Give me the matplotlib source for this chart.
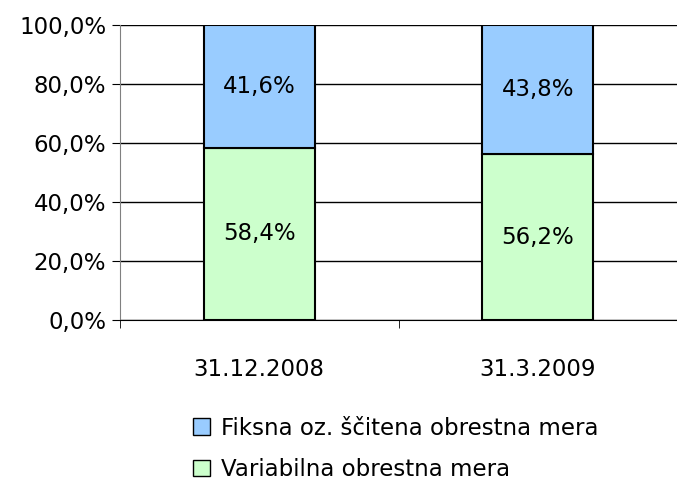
import numpy as np
import matplotlib.pyplot as plt
from matplotlib.patches import Patch

categories = ['31.12.2008', '31.3.2009']
variabilna = np.array([58.4, 56.2])
fiksna = np.array([41.6, 43.8])
labels = ['Fiksna oz. ščitena obrestna mera', 'Variabilna obrestna mera']
yticks = [0, 20, 40, 60, 80, 100]

blue = '#99CCFF'
green = '#CCFFCC'
fs = 16.5

plt.rcParams['font.family'] = ['DejaVu Sans']

fig = plt.figure(figsize=(6.77, 4.83), dpi=100)
W, H = 677, 483
ax = fig.add_axes([120 / W, (H - 320) / H, (W - 120) / W, (320 - 25) / H])

x = np.arange(len(categories))
ax.bar(x, variabilna, width=0.4, color=green, edgecolor='black', linewidth=1.5, zorder=3)
ax.bar(x, fiksna, width=0.4, bottom=variabilna, color=blue, edgecolor='black',
       linewidth=1.5, zorder=3)

for xi, v, f in zip(x, variabilna, fiksna):
    ax.text(xi, v / 2, f'{v:.1f}%'.replace('.', ','), ha='center', va='center',
            fontsize=fs, zorder=4)
    ax.text(xi, v + f / 2, f'{f:.1f}%'.replace('.', ','), ha='center', va='center',
            fontsize=fs, zorder=4)

ax.set_xlim(-0.5, (W - 120) / 288 - 0.5)
ax.set_ylim(0, 100)
ax.set_yticks(yticks)
ax.set_yticklabels([f'{t:.1f}%'.replace('.', ',') for t in yticks], fontsize=fs)
ax.yaxis.grid(True, color='black', linewidth=1)
ax.set_axisbelow(True)

ax.set_xticks(x)
ax.set_xticklabels(categories, fontsize=fs)
ax.set_xticks([-0.5, 0.5, 1.5], minor=True)
ax.tick_params(axis='x', which='major', length=0, pad=27)
ax.tick_params(axis='x', which='minor', length=6, direction='out')
ax.tick_params(axis='y', length=6, direction='out', pad=4)

for s in ['top', 'right']:
    ax.spines[s].set_visible(False)
ax.spines['left'].set_color('#808080')
ax.spines['bottom'].set_color('black')

handles = [Patch(facecolor=blue, edgecolor='black'), Patch(facecolor=green, edgecolor='black')]
fig.legend(handles, labels, loc='upper left', bbox_to_anchor=(172 / W, 1 - 396 / H),
           frameon=False, fontsize=fs, handlelength=0.75, handleheight=0.75,
           handletextpad=0.5, labelspacing=0.8)

fig.savefig('out.png', dpi=100)
